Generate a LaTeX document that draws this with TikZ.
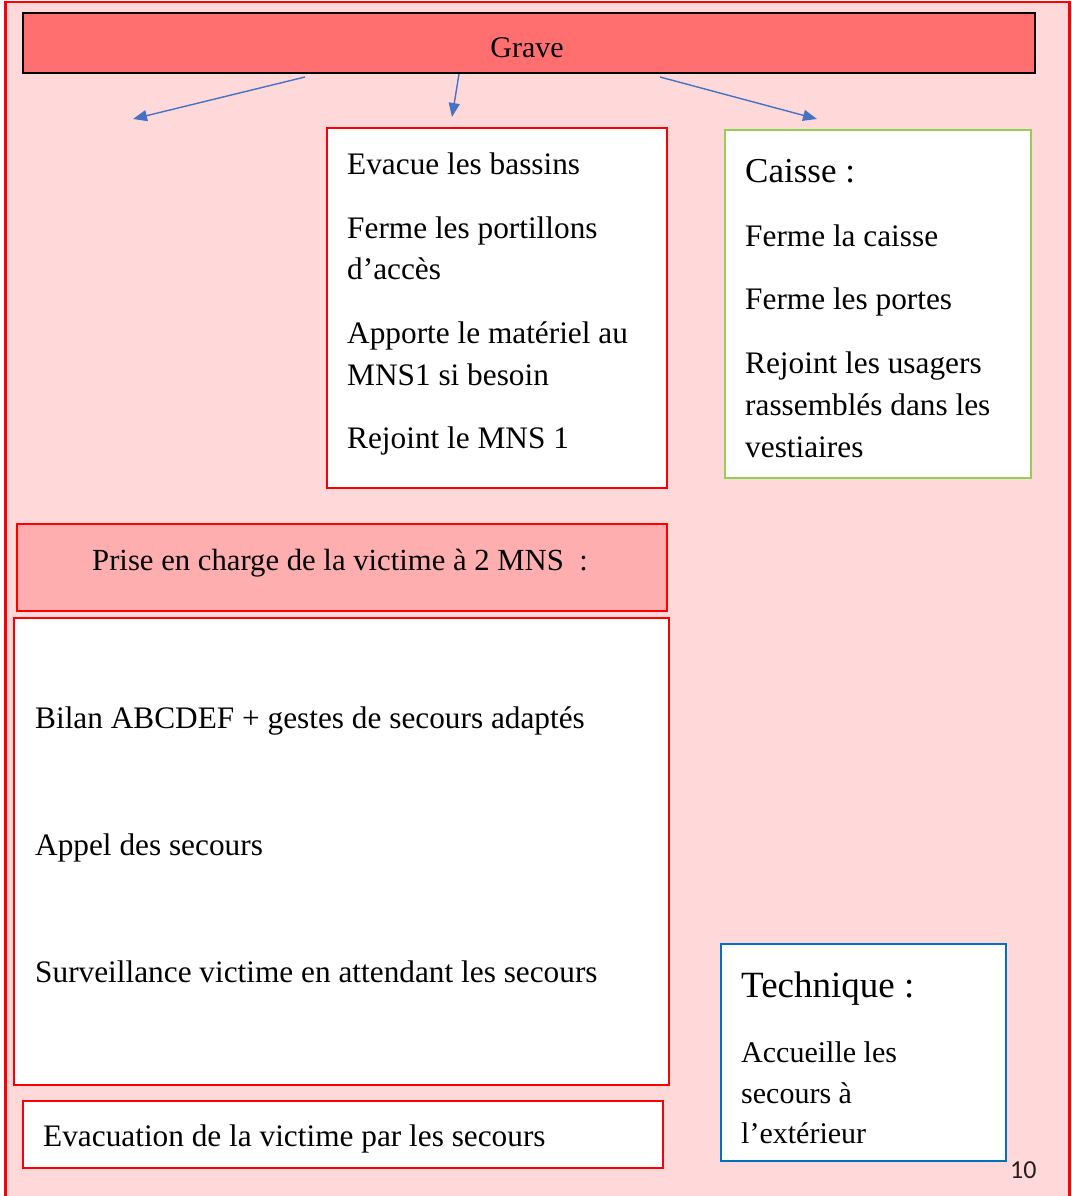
\documentclass[tikz,border=0pt]{standalone}
\usepackage{fontspec}
\setmainfont{Liberation Serif}
\newfontfamily\numfont{Carlito}
\usetikzlibrary{arrows.meta}
\definecolor{bgpink}{RGB}{255,217,218}
\definecolor{gravered}{RGB}{255,111,111}
\definecolor{priserose}{RGB}{255,174,176}
\definecolor{framered}{RGB}{255,0,0}
\definecolor{arrowblue}{RGB}{68,114,196}
\definecolor{caissegreen}{RGB}{146,208,80}
\definecolor{techblue}{RGB}{0,112,192}
\tikzset{
  box/.style={draw=framered, line width=2pt, fill=white, anchor=north west, inner sep=0pt},
  txt/.style={anchor=base west, inner sep=0pt, font=\fontsize{31.3}{31.3}\selectfont},
  ttxt/.style={anchor=base west, inner sep=0pt, font=\fontsize{30}{30}\selectfont},
  title/.style={anchor=base west, inner sep=0pt, font=\fontsize{36}{36}\selectfont},
  link/.style={draw=arrowblue, line width=1.4pt, -{Triangle[length=14pt,width=11pt]}}
}
\begin{document}
\begin{tikzpicture}[x=1pt,y=-1pt]
\useasboundingbox (0,0) rectangle (1071,1196);
% outer frame
\node[draw=framered, line width=2.5pt, fill=bgpink, anchor=north west, inner sep=0pt,
      minimum width=1064pt, minimum height=1210pt] (frame) at (4,1) {};
% Grave
\node[draw=black, line width=2pt, fill=gravered, anchor=north west, inner sep=0pt,
      minimum width=1012pt, minimum height=60pt] (grave) at (22,12) {};
\node[anchor=base, inner sep=0pt, font=\fontsize{30}{30}\selectfont] (gravet) at (527,58) {Grave};
% arrows
\coordinate (a1s) at (305,77); \coordinate (a1e) at (133,119);
\coordinate (a2s) at (459,74); \coordinate (a2e) at (452,117);
\coordinate (a3s) at (660,77); \coordinate (a3e) at (817,119);
\draw[link] (a1s) -- (a1e);
\draw[link] (a2s) -- (a2e);
\draw[link] (a3s) -- (a3e);
% box 1
\node[box, minimum width=340pt, minimum height=360pt] (b1) at (326,127) {};
\node[txt] (b1l1) at (347,174) {Evacue les bassins};
\node[txt] (b1l2) at (347,238) {Ferme les portillons};
\node[txt] (b1l3) at (347,279) {d’accès};
\node[txt] (b1l4) at (347,343) {Apporte le matériel au};
\node[txt] (b1l5) at (347,385) {MNS1 si besoin};
\node[txt] (b1l6) at (347,448) {Rejoint le MNS 1};
% Caisse
\node[box, draw=caissegreen, minimum width=306pt, minimum height=348pt] (b2) at (724,129) {};
\node[title, font=\fontsize{35}{35}\selectfont] (b2t) at (745,182) {Caisse :};
\node[txt] (b2l1) at (745,246) {Ferme la caisse};
\node[txt] (b2l2) at (745,309) {Ferme les portes};
\node[txt] (b2l3) at (745,373) {Rejoint les usagers};
\node[txt] (b2l4) at (745,415) {rassemblés dans les};
\node[txt] (b2l5) at (745,457) {vestiaires};
% Prise en charge
\node[box, fill=priserose, minimum width=650pt, minimum height=87pt] (prise) at (16,523) {};
\node[anchor=base west, inner sep=0pt, font=\fontsize{30.7}{30.7}\selectfont] (priset) at (92,570) {Prise en charge de la victime à 2 MNS\ \ :};
% big box
\node[box, minimum width=655pt, minimum height=467pt] (big) at (13,617) {};
\node[txt] (bigl1) at (35,728) {Bilan ABCDEF + gestes de secours adaptés};
\node[txt] (bigl2) at (35,855) {Appel des secours};
\node[txt] (bigl3) at (35,982) {Surveillance victime en attendant les secours};
% evacuation
\node[box, minimum width=640pt, minimum height=67pt] (evac) at (22,1100) {};
\node[txt] (evact) at (43,1146) {Evacuation de la victime par les secours};
% Technique
\node[box, draw=techblue, minimum width=285pt, minimum height=217pt] (tech) at (720,943) {};
\node[title, font=\fontsize{37}{37}\selectfont] (techt) at (741,997) {Technique :};
\node[ttxt] (techl1) at (741,1062) {Accueille les};
\node[ttxt] (techl2) at (741,1103) {secours à};
\node[ttxt] (techl3) at (741,1143) {l’extérieur};
% page number
\node[anchor=base west, inner sep=0pt, font=\numfont\fontsize{26}{26}\selectfont, text={rgb,255:red,40;green,30;blue,30}] (pagenum) at (1010,1178) {10};
\end{tikzpicture}
\end{document}
